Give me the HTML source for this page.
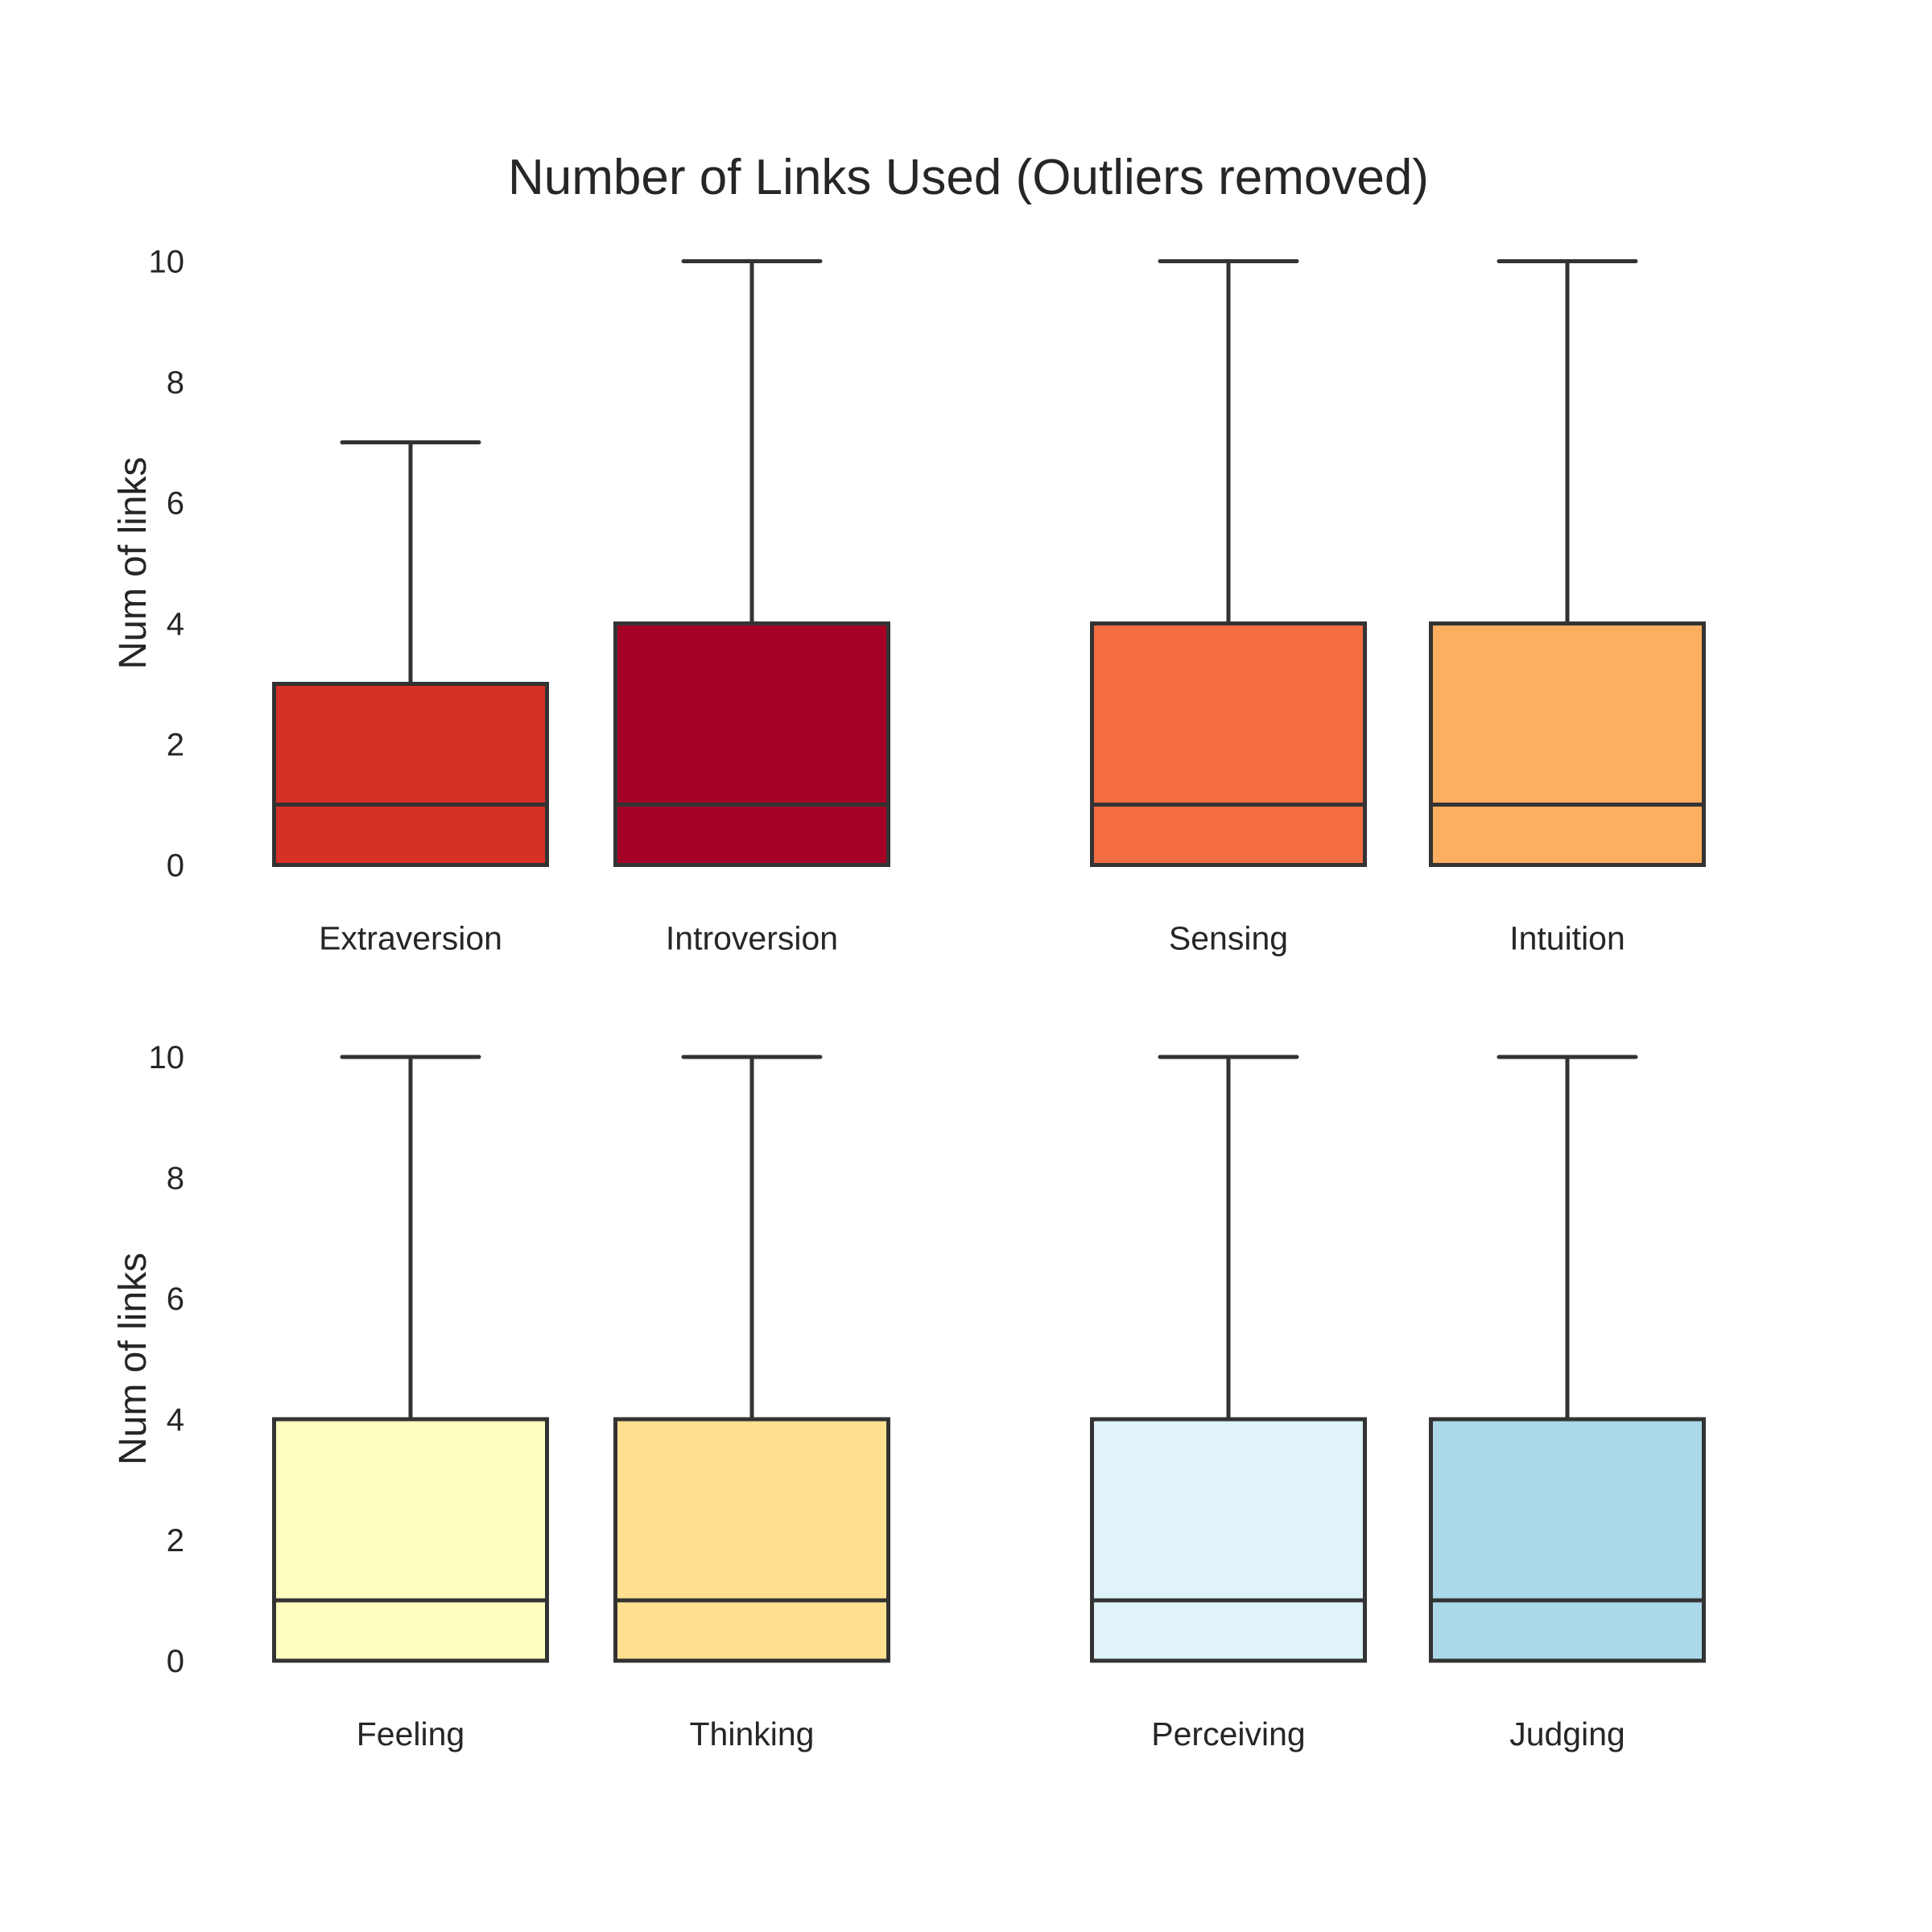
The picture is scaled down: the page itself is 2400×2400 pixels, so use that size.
<!DOCTYPE html>
<html><head><meta charset="utf-8"><style>
html,body{margin:0;padding:0;background:#fff;}
svg{display:block;font-family:"Liberation Sans",Arial,sans-serif;}
</style></head><body>
<svg id="chart" width="2400" height="2400" viewBox="0 0 2400 2400" xmlns="http://www.w3.org/2000/svg">
<text x="1203" y="241" text-anchor="middle" font-size="62" fill="#262626">Number of Links Used (Outliers removed)</text>
</svg>
<script>
const categories = [["Extraversion","Introversion","Sensing","Intuition"],["Feeling","Thinking","Perceiving","Judging"]];
const colors = [["#d73027","#a50026","#f46d43","#fdae61"],["#ffffbf","#fee090","#e0f3f8","#abd9e9"]];
const q1Values = [[0,0,0,0],[0,0,0,0]];
const medianValues = [[1,1,1,1],[1,1,1,1]];
const q3Values = [[3,4,4,4],[4,4,4,4]];
const whiskerLow = [[0,0,0,0],[0,0,0,0]];
const whiskerHigh = [[7,10,10,10],[10,10,10,10]];
const yTicks = [0,2,4,6,8,10];

const svg = document.getElementById('chart');
const NS = 'http://www.w3.org/2000/svg';
const panels = [{top:324.5,bottom:1074.5},{top:1313,bottom:2063}];
const centers = [510,934,1526,1947];
const boxW = 339, capW = 170, stroke = '#333333', lw = 5;
function mk(tag, attrs){const e=document.createElementNS(NS,tag);for(const k in attrs)e.setAttribute(k,attrs[k]);svg.appendChild(e);return e;}
panels.forEach((p,pi)=>{
  const y = v => p.bottom - (v/10)*(p.bottom-p.top);
  yTicks.forEach(t=>{
    const e = mk('text',{x:229,y:y(t)+14,'text-anchor':'end','font-size':40,fill:'#262626'});
    e.textContent = t;
    
    
  });
  const yl = mk('text',{x:0,y:0,transform:`translate(181,${(p.top+p.bottom)/2}) rotate(-90)`,'text-anchor':'middle','font-size':48,fill:'#262626'});
  yl.textContent = 'Num of links';
  
  
  categories[pi].forEach((c,i)=>{
    const cx = centers[i];
    const wl = mk('line',{x1:cx,x2:cx,y1:y(q3Values[pi][i]),y2:y(whiskerHigh[pi][i]),stroke:stroke,'stroke-width':lw});
    
    
    const cap = mk('line',{x1:cx-capW/2,x2:cx+capW/2,y1:y(whiskerHigh[pi][i]),y2:y(whiskerHigh[pi][i]),stroke:stroke,'stroke-width':lw,'stroke-linecap':'round'});
    
    
    const r = mk('rect',{x:cx-boxW/2,y:y(q3Values[pi][i]),width:boxW,height:y(q1Values[pi][i])-y(q3Values[pi][i]),fill:colors[pi][i],stroke:stroke,'stroke-width':lw});
    
    
    const m = mk('line',{x1:cx-boxW/2,x2:cx+boxW/2,y1:y(medianValues[pi][i]),y2:y(medianValues[pi][i]),stroke:stroke,'stroke-width':lw});
    
    
    const lab = mk('text',{x:cx,y:p.bottom+105,'text-anchor':'middle','font-size':41,fill:'#262626'});
    lab.textContent = c;
    
    
  });
});
</script>
</body></html>
